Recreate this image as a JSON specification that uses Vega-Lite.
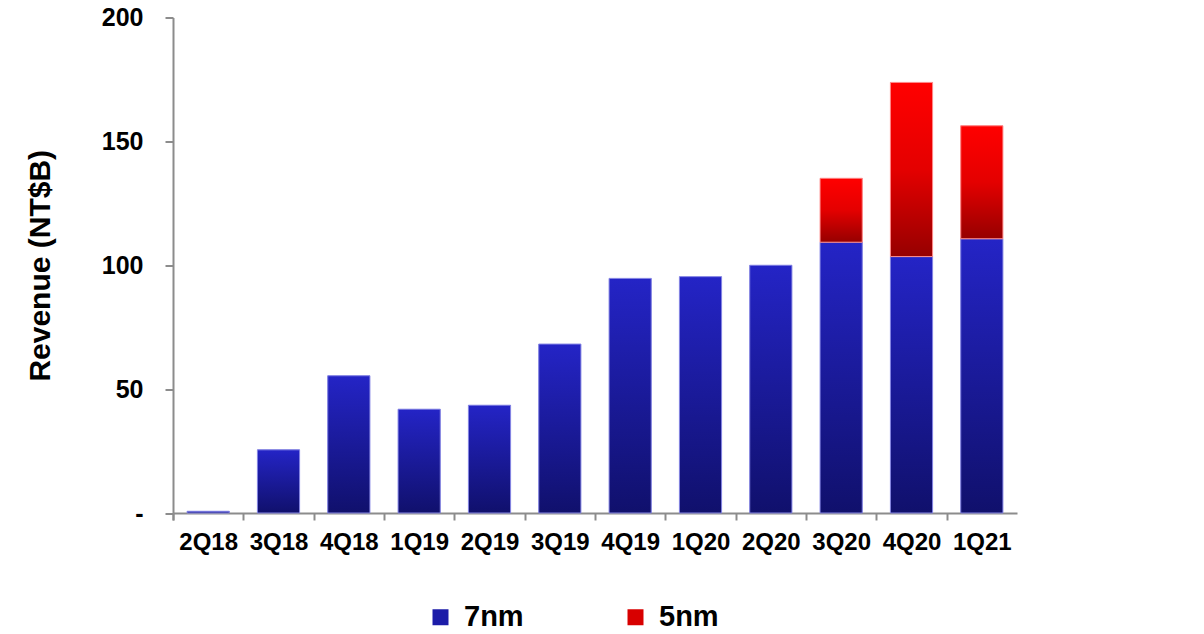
{
  "$schema": "https://vega.github.io/schema/vega-lite/v6.json",
  "width": 844,
  "height": 495.5,
  "autosize": {"type": "none"},
  "padding": {"left": 173, "top": 17.5, "right": 187, "bottom": 121},
  "background": "white",
  "config": {
    "view": {"stroke": null},
    "font": "Liberation Sans"
  },
  "data": {
    "values": [
      {"q": "2Q18", "series": "7nm", "value": 0.7},
      {"q": "3Q18", "series": "7nm", "value": 25.5},
      {"q": "4Q18", "series": "7nm", "value": 55.4},
      {"q": "1Q19", "series": "7nm", "value": 41.9},
      {"q": "2Q19", "series": "7nm", "value": 43.5},
      {"q": "3Q19", "series": "7nm", "value": 68.2},
      {"q": "4Q19", "series": "7nm", "value": 94.7},
      {"q": "1Q20", "series": "7nm", "value": 95.4},
      {"q": "2Q20", "series": "7nm", "value": 100.0},
      {"q": "3Q20", "series": "7nm", "value": 109.3},
      {"q": "4Q20", "series": "7nm", "value": 103.5},
      {"q": "1Q21", "series": "7nm", "value": 110.7},
      {"q": "3Q20", "series": "5nm", "value": 25.8},
      {"q": "4Q20", "series": "5nm", "value": 70.3},
      {"q": "1Q21", "series": "5nm", "value": 45.6}
    ]
  },
  "transform": [
    {"stack": "value", "groupby": ["q"], "sort": [{"field": "series", "order": "descending"}], "as": ["v0", "v1"]}
  ],
  "encoding": {
    "x": {
      "field": "q", "type": "nominal", "sort": null,
      "scale": {"paddingInner": 0.4, "paddingOuter": 0.2},
      "axis": {
        "title": null, "labelAngle": 0, "bandPosition": 0, "tickExtra": true, "tickOffset": -14.07, "labelOffset": 14.07,
        "domainColor": "#8c8c8c", "domainWidth": 2,
        "tickColor": "#8c8c8c", "tickWidth": 2, "tickSize": 7,
        "labelFont": "Liberation Sans", "labelFontWeight": "bold", "labelFontSize": 24,
        "labelColor": "#000000", "labelPadding": 10
      }
    },
    "y": {
      "field": "v1", "type": "quantitative",
      "scale": {"domain": [0, 200], "nice": false},
      "axis": {
        "title": "Revenue (NT$B)", "values": [0, 50, 100, 150, 200],
        "labelExpr": "datum.value == 0 ? '-' : datum.label",
        "grid": false,
        "domainColor": "#8c8c8c", "domainWidth": 2,
        "tickColor": "#8c8c8c", "tickWidth": 2, "tickSize": 8,
        "labelFont": "Liberation Sans", "labelFontWeight": "bold", "labelFontSize": 25,
        "labelColor": "#000000", "labelPadding": 22,
        "titleFont": "Liberation Sans", "titleFontWeight": "bold", "titleFontSize": 30,
        "titleColor": "#000000", "titlePadding": 46
      }
    },
    "y2": {"field": "v0"}
  },
  "layer": [
    {
      "mark": {"type": "bar"},
      "encoding": {
        "color": {
          "field": "series", "type": "nominal",
          "scale": {"domain": ["7nm", "5nm"], "range": ["#1c1ca8", "#d80000"]},
          "legend": {
            "title": null, "orient": "none", "direction": "horizontal",
            "legendX": 253, "legendY": 585, "padding": 0,
            "symbolType": "square", "symbolSize": 256, "symbolStrokeWidth": 0,
            "labelFont": "Liberation Sans", "labelFontWeight": "bold", "labelFontSize": 29,
            "labelColor": "#000000", "labelOffset": 9, "columnPadding": 97
          }
        }
      }
    },
    {
      "transform": [{"filter": "datum.series == '7nm'"}],
      "mark": {
        "type": "bar",
        "stroke": "#8a8ae6", "strokeWidth": 1,
        "color": {
          "gradient": "linear", "x1": 0, "y1": 0, "x2": 0, "y2": 1,
          "stops": [
            {"offset": 0, "color": "#2424c6"},
            {"offset": 1, "color": "#10106c"}
          ]
        }
      }
    },
    {
      "transform": [{"filter": "datum.series == '5nm'"}],
      "mark": {
        "type": "bar",
        "stroke": "#ff9090", "strokeWidth": 1,
        "color": {
          "gradient": "linear", "x1": 0, "y1": 0, "x2": 0, "y2": 1,
          "stops": [
            {"offset": 0, "color": "#ff0000"},
            {"offset": 0.5, "color": "#e40000"},
            {"offset": 1, "color": "#960000"}
          ]
        }
      }
    }
  ]
}
